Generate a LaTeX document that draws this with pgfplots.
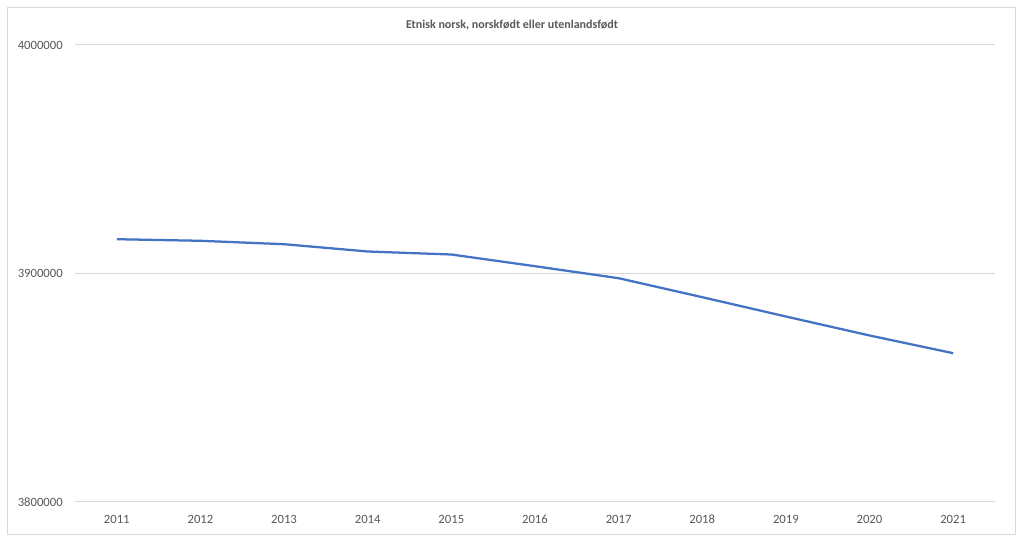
\documentclass[border=0pt]{standalone}
\usepackage{pgfplots}
\pgfplotsset{compat=1.18}
\usepackage{fontspec}
\setmainfont{Carlito}
\definecolor{gridgray}{HTML}{D9D9D9}
\definecolor{txtgray}{HTML}{595959}
\definecolor{lineblue}{HTML}{4472C4}
\begin{document}
\begin{tikzpicture}
\useasboundingbox[fill=white] (-56.25pt,-30pt) rectangle (711.75pt,376.5pt);
\draw[gridgray, line width=0.75pt] (-50.25pt,-24.75pt) rectangle (705pt,370.5pt);
\node[font=\bfseries\fontsize{9}{11}\selectfont, text=txtgray] at (327.75pt,357.75pt) {Etnisk norsk, norskfødt eller utenlandsfødt};
\begin{axis}[
  at={(0pt,0pt)}, anchor=south west,
  scale only axis,
  width=690pt, height=342.75pt,
  xmin=2010.5, xmax=2021.5,
  ymin=3800000, ymax=4000000,
  xtick={2011,2012,...,2021},
  ytick={3800000,3900000,4000000},
  axis line style={draw=none},
  major tick length=0pt,
  ymajorgrids,
  grid style={gridgray, line width=0.75pt},
  /pgf/number format/.cd, fixed, 1000 sep={}, assume math mode=true,
  /pgfplots/.cd,
  scaled y ticks=false,
  xticklabel={\pgfmathprintnumber[fixed,1000 sep={}]{\tick}},
  tick label style={font=\fontsize{9.5}{11}\selectfont, text=txtgray, inner sep=0pt},
  xticklabel style={anchor=center, yshift=-12.75pt},
  yticklabel style={anchor=east, xshift=-9pt},
]
\addplot[lineblue, line width=1.7pt, no markers] coordinates {
(2011,3915010)
(2012,3914310)
(2013,3912820)
(2014,3909630)
(2015,3908310)
(2016,3903190)
(2017,3897940)
(2018,3889630)
(2019,3881180)
(2020,3872870)
(2021,3865120)
};
\end{axis}
\end{tikzpicture}
\end{document}
